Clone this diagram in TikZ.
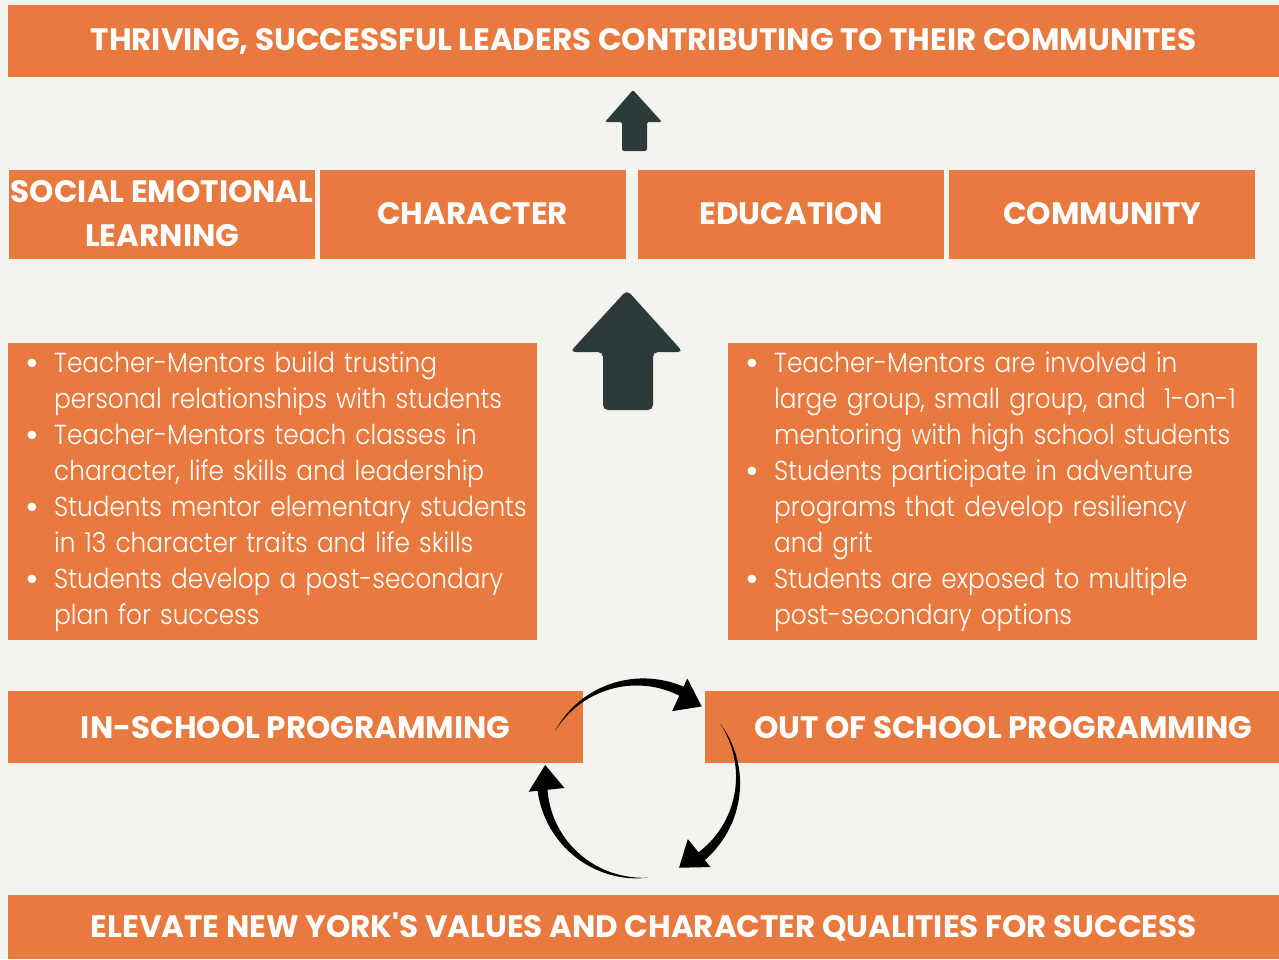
\documentclass[tikz,border=0pt]{standalone}
\usepackage{fontspec}
\setmainfont{Poppins}[UprightFont={* Light}, FakeStretch=0.9]
\newfontfamily\headfont{Poppins}[UprightFont={* Bold}]
\usetikzlibrary{positioning}
\definecolor{brandorange}{HTML}{E8793F}
\definecolor{paper}{HTML}{F3F4EE}
\definecolor{slate}{HTML}{2C3A3B}
\tikzset{
    banner/.style = {fill=brandorange, text=white, inner sep=0pt, align=center, font=\headfont\fontsize{31}{44}\selectfont},
    pillar/.style = {banner, minimum width=306pt, minimum height=89pt, text depth=3pt},
    list-box/.style = {fill=brandorange, text=white, inner sep=0pt, text width=529pt, minimum height=297pt, anchor=north west, font=\fontsize{27.5}{36}\selectfont},
}
% one bullet of a list, lines broken by hand
\newcommand{\pitem}[1]{\noindent\hangindent=46pt\hangafter=1\makebox[46pt][l]{\hspace{17pt}{\headfont\textbullet}}#1\par}
% one tapered arrow of the cycle: start angle, head base angle, tip angle
\newcommand{\cyclearrow}[3]{%
    \fill[black] plot[domain=#1:#2, samples=40] (\x:{98+5*(\x-(#1))/((#2)-(#1))})
        -- (#2:112) -- (#3:96) -- (#2:76)
        -- plot[domain=#2:#1, samples=40] (\x:{98-5*(\x-(#1))/((#2)-(#1))}) -- cycle;}

\begin{document}
\begin{tikzpicture}[x=1pt, y=-1pt]
\useasboundingbox[fill=paper] (0,0) rectangle (1279,959);

\node[banner, minimum width=1271pt, minimum height=72pt, anchor=north west] (goal) at (8,5)
    {THRIVING, SUCCESSFUL LEADERS CONTRIBUTING TO THEIR COMMUNITES};

% pillars
\node[pillar, anchor=north west] (sel) at (9,170) {SOCIAL EMOTIONAL\\LEARNING};
\node[pillar, right=4pt of sel] (character) {CHARACTER};
\node[pillar, right=12pt of character] (education) {EDUCATION};
\node[pillar, right=5pt of education] (community) {COMMUNITY};

% block arrows
\fill[slate, rounded corners=2pt] (633,90) -- (662,122) -- (647,122) -- (647,151)
    -- (622,151) -- (622,122) -- (605,122) -- cycle;
\fill[slate, rounded corners=5pt] (627,290) -- (683,352) -- (653,352) -- (653,410)
    -- (603,410) -- (603,352) -- (570,352) -- cycle;

\node[list-box] (inschool-list) at (8,343) {%
    \pitem{Teacher-Mentors build trusting\newline personal relationships with students}
    \pitem{Teacher-Mentors teach classes in\newline character, life skills and leadership}
    \pitem{Students mentor elementary students\newline in 13 character traits and life skills}
    \pitem{Students develop a post-secondary\newline plan for success}};
\node[list-box] (outschool-list) at (728,343) {%
    \pitem{Teacher-Mentors are involved in\newline large group, small group, and~ 1-on-1\newline mentoring with high school students}
    \pitem{Students participate in adventure\newline programs that develop resiliency\newline and grit}
    \pitem{Students are exposed to multiple\newline post-secondary options}};

\node[banner, minimum width=575pt, minimum height=72pt, anchor=north west] (inschool) at (8,691)
    {IN-SCHOOL PROGRAMMING};
\node[banner, minimum width=596pt, minimum height=72pt, anchor=north west] (outschool) at (705,691)
    {OUT OF SCHOOL PROGRAMMING};

\node[banner, minimum width=1271pt, minimum height=64pt, anchor=north west] (values) at (8,895)
    {ELEVATE NEW YORK'S VALUES AND CHARACTER QUALITIES FOR SUCCESS};

% cycle between the programmes
\coordinate (hub) at (640,780);
\begin{scope}[shift={(hub)}]
    \cyclearrow{210}{295}{310}
    \cyclearrow{-35}{51}{66}
    \cyclearrow{85}{174}{189}
\end{scope}
\end{tikzpicture}
\end{document}
